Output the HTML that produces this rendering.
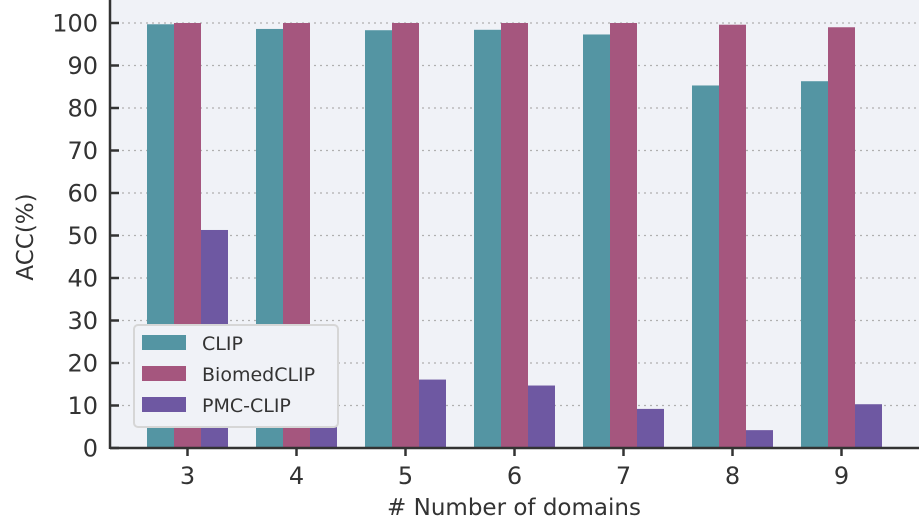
<!DOCTYPE html>
<html><head><meta charset="utf-8"><style>
body{margin:0;background:#fff;}
svg{display:block;font-family:"DejaVu Sans","Liberation Sans",sans-serif;}
</style></head><body>
<svg id="c" width="919" height="527"></svg>
<script>
const categories=["3","4","5","6","7","8","9"];
const clipVals=[99.7,98.6,98.3,98.4,97.3,85.3,86.3];
const biomedVals=[100,100,100,100,100,99.6,99.0];
const pmcVals=[51.3,6,16.1,14.7,9.2,4.2,10.3];
const yTicks=[0,10,20,30,40,50,60,70,80,90,100];
const seriesNames=["CLIP","BiomedCLIP","PMC-CLIP"];
const colors=["#5495a3","#a5567e","#6e58a2"];
const NS="http://www.w3.org/2000/svg";
const svg=document.getElementById('c');
function mk(t,a,p){const e=document.createElementNS(NS,t);for(const k in a)e.setAttribute(k,a[k]);(p||svg).appendChild(e);return e;}
const L=110,R=919,T=0,B=448;
const y=v=>B-v*4.25;
const x=i=>187.5+i*109;
const bw=27;
const bg=mk('rect',{x:L,y:T,width:R-L,height:B-T,fill:'#f0f2f7'});

yTicks.forEach(t=>{
 if(t>0){const g=mk('line',{x1:L,x2:R,y1:y(t),y2:y(t),stroke:'#b0b0b0','stroke-dasharray':'2,4','stroke-width':1.3});
 }
 const tk=mk('line',{x1:L,x2:L+9,y1:y(t),y2:y(t),stroke:'#333','stroke-width':2.5});
 
 const tx=mk('text',{x:L-12,y:y(t)+8.5,'text-anchor':'end','font-size':24,fill:'#333'});tx.textContent=t;
 
});
const all=[clipVals,biomedVals,pmcVals];
categories.forEach((c,i)=>{
 all.forEach((s,j)=>{
  const r=mk('rect',{x:x(i)-1.5*bw+j*bw,y:y(s[i]),width:bw,height:B-y(s[i]),fill:colors[j]});
  
  
 });
 const tk=mk('line',{x1:x(i),x2:x(i),y1:B,y2:B+8,stroke:'#333','stroke-width':2.5});
 
 const tx=mk('text',{x:x(i),y:B+36,'text-anchor':'middle','font-size':24,fill:'#333'});tx.textContent=c;
 
});
const ax=mk('line',{x1:L,x2:L,y1:T,y2:B+1,stroke:'#333','stroke-width':2.5});

const bx=mk('line',{x1:L,x2:R,y1:B,y2:B,stroke:'#333','stroke-width':2.5});

const xt=mk('text',{x:514,y:515,'text-anchor':'middle','font-size':23,fill:'#333'});xt.textContent='# Number of domains';

const yt=mk('text',{x:0,y:0,'text-anchor':'middle','font-size':23,fill:'#333',transform:'translate(33,237) rotate(-90)'});yt.textContent='ACC(%)';

const lg=mk('g',{});

mk('rect',{x:134,y:325,width:204,height:102,rx:4,fill:'#f0f2f7',stroke:'#d6d6d6','stroke-width':2},lg);
seriesNames.forEach((n,j)=>{
 const g=mk('g',{},lg);
 
 mk('rect',{x:142,y:335+j*31,width:44,height:15,fill:colors[j]},g);
 const t=mk('text',{x:202,y:350+j*31,'font-size':19,fill:'#333'},g);t.textContent=n;
});
</script>
</body></html>
